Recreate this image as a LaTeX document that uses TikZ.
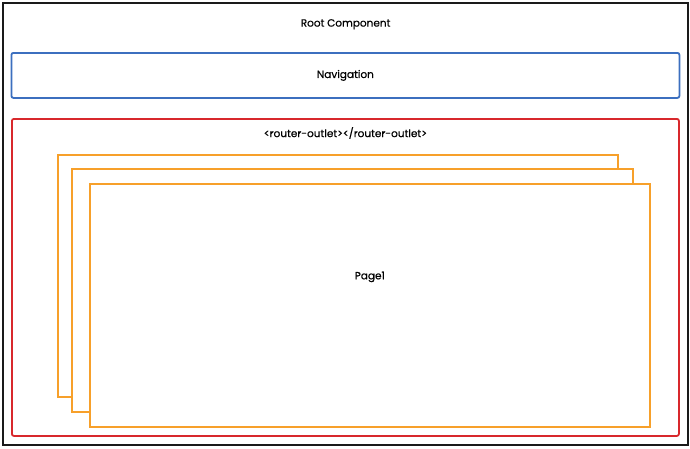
\documentclass[tikz,border=0pt]{standalone}
\usepackage{fontspec}
\setmainfont{Poppins}
\newfontfamily\rtfont{Poppins}[FakeBold=0.6]
\usetikzlibrary{positioning}
\definecolor{rtBlack}{HTML}{1A1A1A}
\definecolor{rtNav}{HTML}{3C6FBF}
\definecolor{rtOutlet}{HTML}{D8282C}
\definecolor{rtPage}{HTML}{F7A02A}
\tikzset{
  rtbox/.style={draw, line width=1.8pt, inner sep=0pt, anchor=north west},
  rootbox/.style={rtbox, draw=rtBlack, line width=2.2pt},
  navbox/.style={rtbox, draw=rtNav, rounded corners=2pt},
  outletbox/.style={rtbox, draw=rtOutlet, rounded corners=2pt},
  pagebox/.style={rtbox, draw=rtPage, fill=white, line width=1.7pt},
  rttext/.style={font=\rtfont\fontsize{10.5}{12}\selectfont, inner sep=1pt}
}
\begin{document}
\begin{tikzpicture}[x=1pt, y=-1pt]
  \useasboundingbox (0,0) rectangle (690,448);
  \node[rootbox, minimum width=685pt, minimum height=442pt] (root) at (2,2) {};
  \node[navbox, minimum width=668pt, minimum height=45pt] (nav) at (10.5,52) {};
  \node[outletbox, minimum width=667pt, minimum height=317pt] (outlet) at (11,118) {};
  % stacked pages, back to front
  \node[pagebox, minimum width=560pt, minimum height=242pt] (page3) at (57,154) {};
  \node[pagebox, minimum width=561pt, minimum height=243pt] (page2) at (71,168) {};
  \node[pagebox, minimum width=560pt, minimum height=243pt] (page1) at (89,183) {};
  % labels
  \node[rttext, below=16pt of root.north] (rootlbl) {Root Component};
  \node[rttext] (navlbl) at (nav.center) {Navigation};
  \node[rttext, below=8pt of outlet.north] (outletlbl) {<router-outlet></router-outlet>};
  \node[rttext, above=22pt of page1.center] (pagelbl) {Page1};
\end{tikzpicture}
\end{document}
